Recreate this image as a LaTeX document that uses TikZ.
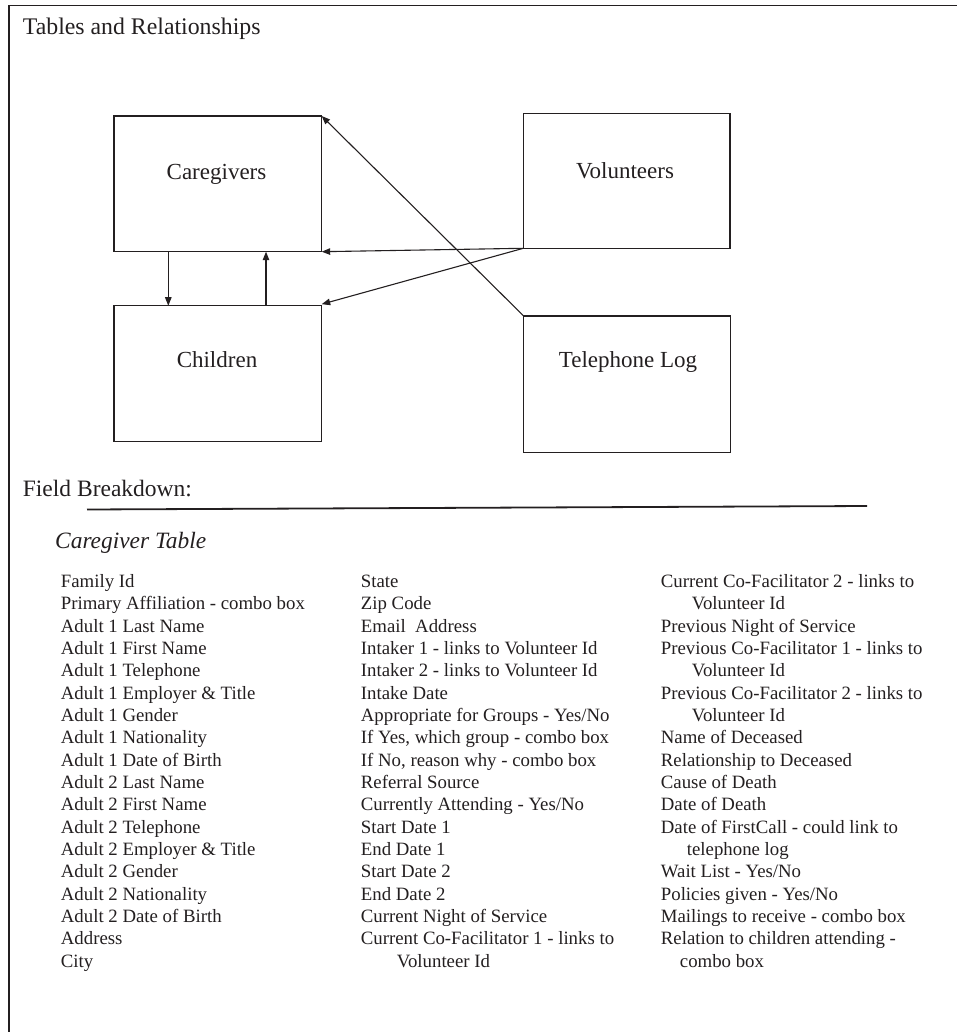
\documentclass[tikz,border=0pt]{standalone}
\usepackage{fontspec}
\setmainfont{Liberation Serif}
\usetikzlibrary{arrows.meta}
\definecolor{ink}{RGB}{35,31,32}
\begin{document}
\begin{tikzpicture}[x=1pt,y=-1pt,
  tbox/.style={draw=ink,line width=1.2pt,inner sep=0pt,outer sep=0pt,anchor=north west},
  boxlabel/.style={anchor=base,inner sep=0pt,text=ink,font=\fontsize{23}{27}\selectfont},
  heading/.style={anchor=base west,inner sep=0pt,text=ink,font=\fontsize{23.6}{28}\selectfont},
  field/.style={anchor=base west,inner sep=0pt,text=ink,font=\fontsize{18.8}{22}\selectfont},
  conn/.style={draw=ink,line width=1.1pt,-{Triangle[length=8.5pt,width=6.5pt]}},
  ]
\useasboundingbox (0,0) rectangle (957,1032);
% frame
\coordinate (fbl) at (9,1032);
\coordinate (ftl) at (9,5.3);
\coordinate (ftr) at (957,5.3);
\draw[ink,line width=1.3pt] (fbl) -- (ftl) -- (ftr);

% title
\node[heading,font=\fontsize{23.8}{28}\selectfont] (title) at (22.7,35) {Tables and Relationships};

% boxes
\node[tbox,minimum width=207.7pt,minimum height=135.7pt] (cg) at (114,116) {};
\node[tbox,minimum width=207.7pt,minimum height=136pt] (ch) at (114,305.7) {};
\node[tbox,minimum width=206.7pt,minimum height=135pt] (vol) at (523.3,113.3) {};
\node[tbox,minimum width=207pt,minimum height=136.7pt] (tel) at (523.7,316) {};

\node[boxlabel] (cgl) at (216.5,179.3) {Caregivers};
\node[boxlabel] (chl) at (217,367.5) {Children};
\node[boxlabel] (voll) at (625,179) {Volunteers};
\node[boxlabel] (tell) at (628,367.3) {Telephone Log};

% connectors
\draw[conn] ([xshift=54.3pt]cg.south west) -- ([xshift=54.3pt]ch.north west);
\draw[conn] ([xshift=152pt]ch.north west) -- ([xshift=152pt]cg.south west);
\draw[conn] (vol.south west) -- (cg.south east);
\draw[conn] (vol.south west) -- ([yshift=1.5pt]ch.north east);
\draw[conn] (tel.north west) -- (cg.north east);

% field breakdown
\node[heading,font=\fontsize{23.5}{28}\selectfont] (fb) at (22.7,496) {Field Breakdown:};
\coordinate (rl) at (87,509.5);
\coordinate (rr) at (867,506);
\draw[ink,line width=1.8pt] (rl) -- (rr);
\node[heading,font=\fontsize{23.4}{28}\itshape\selectfont] (ct) at (55,548.3) {Caregiver Table};

% column 1
\foreach \t [count=\i from 0] in {Family Id, Primary Affiliation - combo box, Adult 1 Last Name, Adult 1 First Name, Adult 1 Telephone, Adult 1 Employer \& Title, Adult 1 Gender, Adult 1 Nationality, Adult 1 Date of Birth, Adult 2 Last Name, Adult 2 First Name, Adult 2 Telephone, Adult 2 Employer \& Title, Adult 2 Gender, Adult 2 Nationality, Adult 2 Date of Birth, Address, City}
  \node[field] (fa\i) at (60.7,{587.3+22.35*\i}) {\t};

% column 2
\foreach \t [count=\i from 0] in {State, Zip Code, Email\ \ Address, Intaker 1 - links to Volunteer Id, Intaker 2 - links to Volunteer Id, Intake Date, Appropriate for Groups - Yes/No, {If Yes, which group - combo box}, {If No, reason why - combo box}, Referral Source, Currently Attending - Yes/No, Start Date 1, End Date 1, Start Date 2, End Date 2, Current Night of Service, Current Co-Facilitator 1 - links to, \hspace*{36pt}Volunteer Id}
  \node[field] (fb\i) at (360.7,{587.3+22.35*\i}) {\t};

% column 3
\foreach \t [count=\i from 0] in {Current Co-Facilitator 2 - links to, \hspace*{31pt}Volunteer Id, Previous Night of Service, Previous Co-Facilitator 1 - links to, \hspace*{31pt}Volunteer Id, Previous Co-Facilitator 2 - links to, \hspace*{31pt}Volunteer Id, Name of Deceased, Relationship to Deceased, Cause of Death, Date of Death, Date of FirstCall - could link to, \hspace*{26pt}telephone log, Wait List - Yes/No, Policies given - Yes/No, Mailings to receive - combo box, Relation to children attending -, \hspace*{19pt}combo box}
  \node[field] (fc\i) at (660.7,{587.3+22.35*\i}) {\t};
\end{tikzpicture}
\end{document}
